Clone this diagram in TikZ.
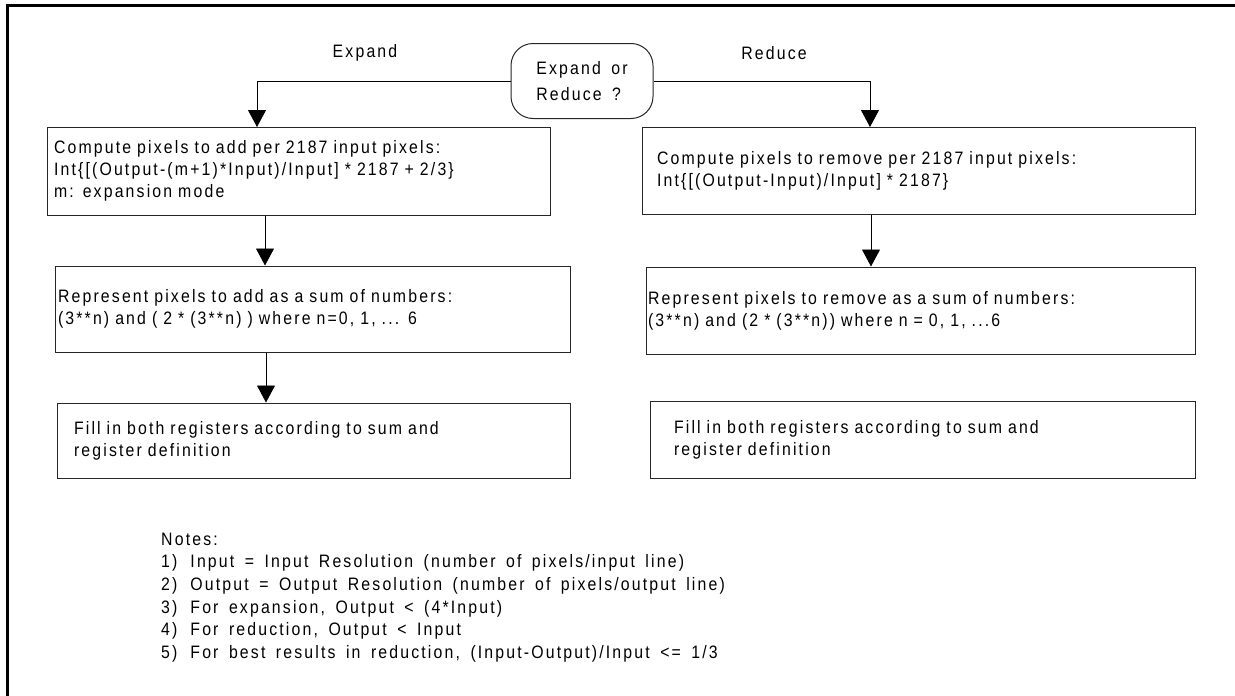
\documentclass[tikz,border=0pt]{standalone}
\usepackage{fontspec}
\setmainfont{Liberation Sans}[FakeStretch=0.88,LetterSpace=12,WordSpace=1.6]
\usetikzlibrary{arrows.meta,positioning}

\tikzset{
  procbox/.style={draw=black!85, line width=1pt, rectangle, align=left,
    inner ysep=0pt, font=\fontsize{18}{22}\selectfont},
  decbox/.style={draw=black!85, line width=1pt, rounded corners=22pt,
    align=left, inner sep=0pt, font=\fontsize{18}{26}\selectfont},
  flowarrow/.style={draw=black, line width=0.9pt,
    -{Triangle[width=18pt,length=17pt]}},
  branchlbl/.style={inner sep=0pt, font=\fontsize{18}{22}\selectfont},
  notetext/.style={inner sep=0pt, align=left, font=\fontsize{18}{22.7}\selectfont}
}

\begin{document}
\begin{tikzpicture}[x=1pt,y=-1pt]
% Canvas and frame
\useasboundingbox (0,0) rectangle (1235,696);
\draw[line width=3pt] (7,700) -- (7,5) -- (1240,5);

% Decision
\node[decbox, minimum width=142pt, minimum height=75pt] (decide) at (582,81) {Expand or\\Reduce ?};
\node[branchlbl] (expandlbl) at (365,53) {Expand};
\node[branchlbl] (reducelbl) at (774,53) {Reduce};

% Expand branch
\node[procbox, minimum width=503pt, minimum height=88pt, text width=489pt, inner xsep=7pt]
  (cmpadd) at (298.5,171) {Compute pixels to add per 2187 input pixels:\\
  Int\{[(Output-(m+1)*Input)/Input] * 2187 + 2/3\}\\
  m: expansion mode};
\node[procbox, minimum width=515pt, minimum height=86pt, text width=509pt, inner xsep=3pt]
  (repadd) at (312.5,309) {Represent pixels to add as a sum of numbers:\\
  (3**n) and ( 2 * (3**n) ) where n=0, 1, ... 6};
\node[procbox, minimum width=513pt, minimum height=75pt, text width=479pt, inner xsep=17pt]
  (filladd) at (313.5,440.5) {Fill in both registers according to sum and\\
  register definition};

% Reduce branch
\node[procbox, minimum width=553pt, minimum height=87pt, text width=523pt, inner xsep=15pt]
  (cmprem) at (918.5,170.5) {Compute pixels to remove per 2187 input pixels:\\
  Int\{[(Output-Input)/Input] * 2187\}};
\node[procbox, minimum width=549pt, minimum height=87pt, text width=545pt, inner xsep=2pt]
  (reprem) at (920.5,310.5) {Represent pixels to remove as a sum of numbers:\\
  (3**n) and (2 * (3**n)) where n = 0, 1, ...6};
\node[procbox, minimum width=545pt, minimum height=77pt, text width=497pt, inner xsep=24pt]
  (fillrem) at (922.5,439.5) {Fill in both registers according to sum and\\
  register definition};

% Branch connectors
\coordinate (addtop) at (257,127);
\coordinate (remtop) at (870,127);
\draw[flowarrow] (decide.west) -| (addtop);
\draw[flowarrow] (decide.east) -| (remtop);

% Step connectors
\coordinate (addcol) at (265,0);
\coordinate (addcolb) at (266,0);
\coordinate (remcol) at (871,0);
\draw[flowarrow] (cmpadd.south -| addcol) -- (repadd.north -| addcol);
\draw[flowarrow] (repadd.south -| addcolb) -- (filladd.north -| addcolb);
\draw[flowarrow] (cmprem.south -| remcol) -- (reprem.north -| remcol);

% Notes
\node[notetext, anchor=north west] (notes) at (161,529) {%
  \begin{tabular}{@{}l@{\hspace{13pt}}l@{}}
  \multicolumn{2}{@{}l}{Notes:}\\
  1) & Input = Input Resolution (number of pixels/input line)\\
  2) & Output = Output Resolution (number of pixels/output line)\\
  3) & For expansion, Output < (4*Input)\\
  4) & For reduction, Output < Input\\
  5) & For best results in reduction, (Input-Output)/Input <= 1/3
  \end{tabular}};
\end{tikzpicture}
\end{document}
